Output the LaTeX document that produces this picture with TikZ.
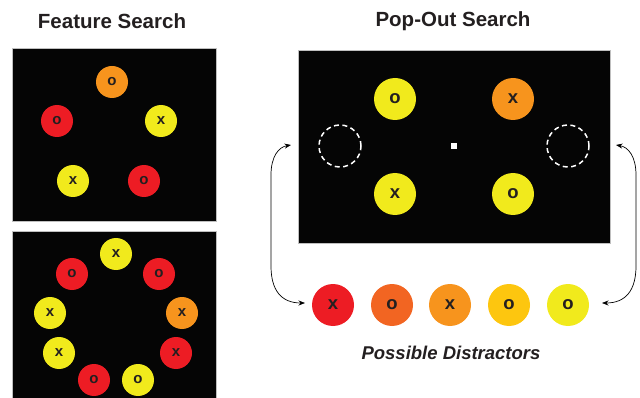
\documentclass[tikz,border=0pt]{standalone}
\usepackage{fontspec}
\setmainfont{Liberation Sans}
\usetikzlibrary{arrows.meta}
\definecolor{cred}{HTML}{ED1C24}
\definecolor{corr}{HTML}{F26522}
\definecolor{corg}{HTML}{F7941D}
\definecolor{cgld}{HTML}{FDC60F}
\definecolor{cyel}{HTML}{F1EA1C}
\definecolor{ctxt}{HTML}{231F20}
\definecolor{cbg}{HTML}{050505}
\tikzset{
  panel/.style={fill=cbg, draw=gray!50, line width=0.6pt},
  sdot/.style={circle, minimum size=32pt, inner sep=0pt, text=ctxt,
     font=\fontsize{15}{15}\selectfont\bfseries},
  bdot/.style={circle, minimum size=42pt, inner sep=0pt, text=ctxt,
     font=\fontsize{18.5}{18.5}\selectfont\bfseries},
  ghost/.style={circle, minimum size=42pt, inner sep=0pt, draw=white,
     line width=1.5pt, dash pattern=on 5pt off 3.5pt},
  ttl/.style={text=ctxt, font=\fontsize{20.5}{20.5}\selectfont\bfseries},
  conn/.style={line width=0.7pt, {Stealth[length=6.5pt,width=5pt]}-{Stealth[length=6.5pt,width=5pt]}}
}
\begin{document}
\begin{tikzpicture}[x=1pt,y=-1pt]
\useasboundingbox (0,0) rectangle (640,398);
% titles
\node[ttl] (t1) at (112,21) {Feature Search};
\node[ttl] (t2) at (453,21) {Pop-Out Search};
% panels
\draw[panel] (12,48) rectangle (216,221);
\draw[panel] (12,231) rectangle (216,398);
\draw[panel] (298,50) rectangle (610,243);
% feature search top
\node[sdot, fill=corg] (a1) at (112,82) {o};
\node[sdot, fill=cred] (a2) at (57,121) {o};
\node[sdot, fill=cyel] (a3) at (161,121) {x};
\node[sdot, fill=cyel] (a4) at (73,181) {x};
\node[sdot, fill=cred] (a5) at (144,181) {o};
% feature search bottom
\node[sdot, fill=cyel] (b1) at (116,254) {x};
\node[sdot, fill=cred] (b2) at (72,274) {o};
\node[sdot, fill=cred] (b3) at (159,274) {o};
\node[sdot, fill=cyel] (b4) at (50,313) {x};
\node[sdot, fill=corg] (b5) at (182,313) {x};
\node[sdot, fill=cyel] (b6) at (59,353) {x};
\node[sdot, fill=cred] (b7) at (176,353) {x};
\node[sdot, fill=cred] (b8) at (94,380) {o};
\node[sdot, fill=cyel] (b9) at (138,380) {o};
% pop-out
\node[bdot, fill=cyel] (p1) at (395,99) {o};
\node[bdot, fill=corg] (p2) at (513,99) {x};
\node[bdot, fill=cyel] (p3) at (395,194) {x};
\node[bdot, fill=cyel] (p4) at (513,194) {o};
\node[ghost] (g1) at (340,146) {};
\node[ghost] (g2) at (568,146) {};
\node[fill=white, minimum size=6pt, inner sep=0pt] (fix) at (454,146) {};
% distractors
\node[bdot, fill=cred] (d1) at (333,305) {x};
\node[bdot, fill=corr] (d2) at (392,305) {o};
\node[bdot, fill=corg] (d3) at (450,305) {x};
\node[bdot, fill=cgld] (d4) at (509,305) {o};
\node[bdot, fill=cyel] (d5) at (568,305) {o};
\node[text=ctxt, font=\fontsize{18.5}{18.5}\selectfont\bfseries\itshape] (lab) at (451,353) {Possible Distractors};
% connectors
\coordinate (la) at (291,145);
\coordinate (lb) at (305,303);
\coordinate (ra) at (616,145);
\coordinate (rb) at (602,303);
\draw[conn] (lb) .. controls (281,303) and (271,290) .. (271,266) -- (271,175) .. controls (271,156) and (279,147) .. (la);
\draw[conn] (rb) .. controls (626,303) and (636,290) .. (636,266) -- (636,175) .. controls (636,156) and (628,147) .. (ra);
\end{tikzpicture}
\end{document}
